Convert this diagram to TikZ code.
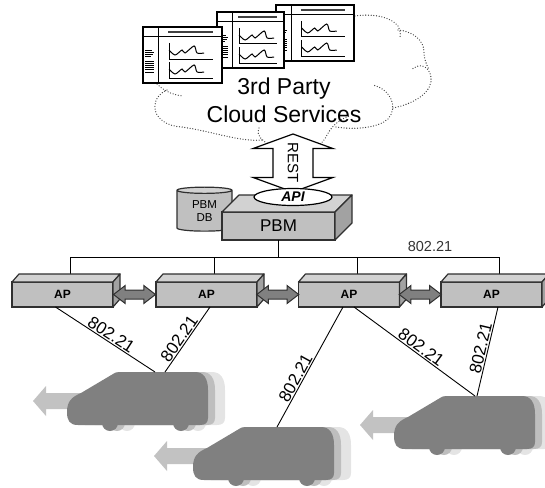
\documentclass[tikz,border=0pt]{standalone}
\usepackage{fontspec}
\setmainfont{Liberation Sans}
\usetikzlibrary{positioning, shapes.geometric, shapes.arrows}

\definecolor{boxline}{HTML}{303030}
\definecolor{boxfront}{HTML}{C0C0C0}
\definecolor{boxtop}{HTML}{D2D2D2}
\definecolor{boxside}{HTML}{A2A2A2}
\definecolor{carbody}{HTML}{808080}
\definecolor{carnear}{HTML}{BEBEBE}
\definecolor{carfar}{HTML}{E4E4E4}
\definecolor{motion}{HTML}{C2C2C2}

\begin{document}
\begin{tikzpicture}[x=1pt, y=-1pt,
  apbox/.style={rectangle, draw=boxline, line width=1.2pt, fill=boxfront, outer sep=0pt,
    minimum width=101pt, minimum height=25pt, inner sep=0pt, font=\fontsize{12}{14}\selectfont\bfseries},
  pbmbox/.style={apbox, minimum width=113pt, minimum height=28pt, font=\fontsize{17}{20}\selectfont},
  topface/.style={draw=boxline, line width=1.2pt, fill=boxtop, line join=round},
  sideface/.style={draw=boxline, line width=1.2pt, fill=boxside, line join=round},
  dbcyl/.style={cylinder, shape border rotate=90, aspect=0.25, draw=boxline, line width=1.2pt,
    cylinder uses custom fill, cylinder body fill=boxfront, cylinder end fill=boxtop,
    minimum width=55pt, minimum height=44pt, inner sep=0pt, align=center, font=\fontsize{11.5}{13}\selectfont},
  restarrow/.style={double arrow, draw=black, fill=white, line width=1.2pt, rotate=-90,
    minimum height=58pt, inner xsep=0pt, inner ysep=14pt, double arrow head extend=20pt,
    double arrow tip angle=140, font=\fontsize{15}{17}\selectfont},
  api/.style={ellipse, draw=black, fill=white, line width=1.2pt, minimum width=78pt, minimum height=17pt,
    inner sep=0pt, font=\fontsize{14}{16}\selectfont\bfseries\itshape},
  peerarrow/.style={double arrow, draw=boxline, fill=carbody, line width=1pt, minimum height=42pt,
    inner xsep=0pt, inner ysep=4pt, double arrow head extend=4.5pt, double arrow tip angle=75},
  bus/.style={draw=black, line width=1pt},
  link/.style={draw=black, line width=0.9pt},
  linklabel/.style={font=\fontsize{17}{19}\selectfont, sloped, above, inner sep=1pt},
  cloudline/.style={draw=black!75, line width=1.3pt, line cap=round, dash pattern=on 0pt off 2.7pt},
  cloudtext/.style={align=center, font=\fontsize{23}{28}\selectfont},
  car/.pic={
    \path[pic actions] (0,40) .. controls (0,29) and (5,25) .. (14,21) -- (46,2)
      .. controls (48,0.5) .. (53,0) -- (128,0) .. controls (137,0) and (141,7) .. (141,18)
      -- (141,46) .. controls (141,51) and (138,53) .. (133,53) -- (11,53)
      .. controls (3,53) and (0,49) .. (0,40) -- cycle;
    \path[pic actions] (43,51) circle (8pt) (114,51) circle (8pt);
  }
]
\useasboundingbox (0,0) rectangle (545,487);

% cloud outline, bump by bump
\draw[cloudline] (150,76) .. controls (160,90) and (172,95) .. (183,96);
\draw[cloudline] (167,90) .. controls (148,98) and (150,125) .. (182,127) .. controls (215,132) and (240,142) .. (262,140);
\draw[cloudline] (259,128) .. controls (256,136) and (262,140) .. (268,144) .. controls (290,158) and (318,152) .. (326,137) .. controls (330,128) and (338,120) .. (349,116);
\draw[cloudline] (336,127) .. controls (355,130) and (378,128) .. (388,119) .. controls (398,108) and (392,90) .. (373,85);
\draw[cloudline] (393,108) .. controls (418,103) and (433,90) .. (431,77) .. controls (429,66) and (420,62) .. (411,70);
\draw[cloudline] (398,30) .. controls (412,31) and (424,40) .. (424,52) .. controls (424,60) and (427,65) .. (429,70);
\draw[cloudline] (355,16) .. controls (375,13) and (392,18) .. (398,26) .. controls (400,30) and (401,34) .. (400,37);

% monitoring windows, back to front
\foreach \wx/\wy/\ww in {276/5/78, 217/12/67, 143/27/79} {
  \begin{scope}[shift={(\wx,\wy)}]
    \filldraw[fill=white, line width=1.3pt] (0,0) rectangle (\ww,56);
    \draw[line width=1pt] (0,10) -- (\ww,10) (15,0) -- (15,56);
    \draw[line width=2pt, black!75] ({0.32*\ww},5) -- ({0.89*\ww},5);
    \foreach \k/\len in {0/7,1/9,2/8,3/6,5/9,6/9,7/9,8/9,9/9,10/9}
      \draw[line width=0.7pt] (2,{23+2.2*\k}) -- ({2+\len},{23+2.2*\k});
    \foreach \cy in {16,35} {
      \begin{scope}[shift={({0.33*\ww},\cy)}]
        \draw[line width=1pt] (0,0) -- (0,16) -- ({0.56*\ww},16);
        \draw[line width=1pt] plot[smooth, tension=0.5] coordinates {(0,7) (6,12) (13,7) (16,10) (25,3) (28,10) (35,10)};
      \end{scope}
    }
  \end{scope}
}
\node[cloudtext] (cloudtxt) at (284,100) {3rd Party\\Cloud Services};

% PBM with its database
\node[dbcyl] (db) at (204.5,211) {PBM\\DB};
\node[pbmbox] (pbm) at (278.5,226) {PBM};
\filldraw[topface] (pbm.north west) -- ++(17,-17) -- ([shift={(17,-17)}]pbm.north east) -- (pbm.north east) -- cycle;
\filldraw[sideface] (pbm.north east) -- ++(17,-17) -- ([shift={(17,-17)}]pbm.south east) -- (pbm.south east) -- cycle;
\node[restarrow] (rest) at (293,163) {REST};
\node[api] (api) at (293,197) {API};

% access points
\node[apbox] (ap1) at (62.5,294.5) {AP};
\node[apbox] (ap2) at (206.5,294.5) {AP};
\node[apbox] (ap3) at (349,294.5) {AP};
\node[apbox] (ap4) at (491.5,294.5) {AP};

% wired backbone
\draw[bus] (pbm.south) -- ++(0,17);
\draw[bus] ([xshift=8]ap1.north) -- ++(0,-25) -| ([xshift=8]ap4.north);
\draw[bus] ([xshift=8]ap2.north) -- ++(0,-25);
\draw[bus] ([xshift=8]ap3.north) -- ++(0,-25);
\node[font=\fontsize{14.5}{16}\selectfont, text=black!80] (buslabel) at (430,247) {802.21};

\foreach \n in {ap1,ap2,ap3,ap4} {
  \filldraw[topface] (\n.north west) -- ++(7,-8) -- ([shift={(7,-8)}]\n.north east) -- (\n.north east) -- cycle;
  \filldraw[sideface] (\n.north east) -- ++(7,-8) -- ([shift={(7,-8)}]\n.south east) -- (\n.south east) -- cycle;
}
\path (ap1.east) -- node[peerarrow] (p12) {} (ap2.west);
\path (ap2.east) -- node[peerarrow] (p23) {} (ap3.west);
\path (ap3.east) -- node[peerarrow] (p34) {} (ap4.west);

% moving cars
\foreach \cx/\cy/\tip in {67/372/-34, 193/427/-39, 394/396/-34} {
  \begin{scope}[shift={(\cx,\cy)}]
    \fill[motion] (\tip,29) -- (\tip+13,14) -- (\tip+13,21) -- (20,21) -- (20,37) -- (\tip+13,37) -- (\tip+13,44) -- cycle;
    \pic[fill=carfar] at (17,0) {car};
    \pic[fill=carnear] at (7,0) {car};
    \pic[fill=carbody] at (0,0) {car};
  \end{scope}
}
\coordinate (car1) at (160,372);
\coordinate (car2) at (277,427);
\coordinate (car3) at (476,396);

% wireless links
\draw[link] ([xshift=-7]ap1.south) -- node[linklabel, pos=0.52] {802.21} ([xshift=-5]car1);
\draw[link] ([xshift=3.5]ap2.south) -- node[linklabel, pos=0.55] {802.21} ([xshift=5]car1);
\draw[link] ([xshift=-6]ap3.south) -- node[linklabel, pos=0.62] {802.21} (car2);
\draw[link] ([xshift=5]ap3.south) -- node[linklabel, pos=0.52] {802.21} ([xshift=-1]car3);
\draw[link] ([xshift=6.5]ap4.south) -- node[linklabel, pos=0.48] {802.21} ([xshift=1]car3);

\end{tikzpicture}
\end{document}
